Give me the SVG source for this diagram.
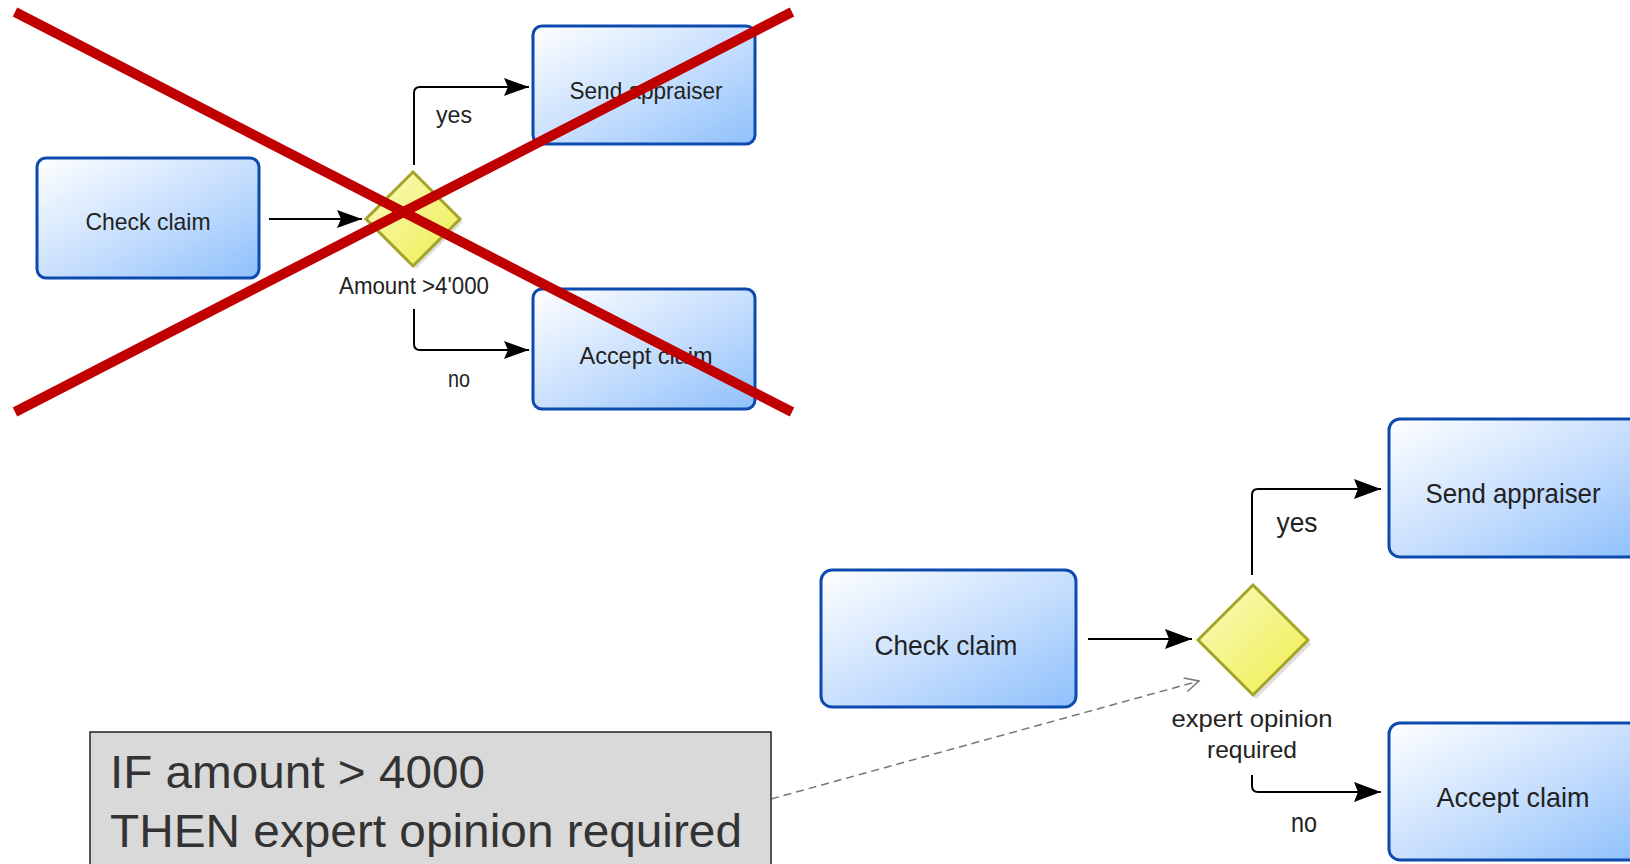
<svg xmlns="http://www.w3.org/2000/svg" width="1630" height="864" viewBox="0 0 1630 864">
  <defs>
    <linearGradient id="taskFill" x1="0" y1="0" x2="1" y2="1">
      <stop offset="0" stop-color="#ffffff"/>
      <stop offset="0.55" stop-color="#c4ddfd"/>
      <stop offset="1" stop-color="#8ec0fb"/>
    </linearGradient>
    <linearGradient id="gateFill" x1="0" y1="0" x2="1" y2="1">
      <stop offset="0" stop-color="#fafac0"/>
      <stop offset="1" stop-color="#eeee4c"/>
    </linearGradient>
    <marker id="arrow" markerUnits="userSpaceOnUse" markerWidth="30" markerHeight="22" refX="27" refY="10" orient="auto">
      <path d="M0,0 L27,10 L0,20 L4,10 z" fill="#000"/>
    </marker>
    <marker id="arrowSmall" markerUnits="userSpaceOnUse" markerWidth="28" markerHeight="20" refX="25" refY="9" orient="auto">
      <path d="M0,0 L25,9 L0,18 L4,9 z" fill="#000"/>
    </marker>
    <marker id="openArrow" markerUnits="userSpaceOnUse" markerWidth="20" markerHeight="20" refX="16" refY="8" orient="auto">
      <path d="M2,1 L16,8 L2,15" fill="none" stroke="#777" stroke-width="1.5"/>
    </marker>
  </defs>
  <style>
    .task { fill: url(#taskFill); stroke: #0c4aae; stroke-width: 3; }
    .gate { fill: url(#gateFill); stroke: #a4a428; stroke-width: 3; }
    .gateShadow { fill: #c8c8c8; opacity: 0.6; }
    .flow { fill: none; stroke: #000; stroke-width: 2; }
    .lbl { font-family: "Liberation Sans", Arial, sans-serif; fill: #222; text-anchor: middle; }
    .small { font-size: 24px; }
    .big { font-size: 28px; }
    .assoc { fill: none; stroke: #777; stroke-width: 1.5; stroke-dasharray: 8 5; }
    .note { fill: #d9d9d9; stroke: #222; stroke-width: 1.5; }
    .noteText { font-family: "Liberation Sans", Arial, sans-serif; font-size: 47px; fill: #333; }
    .cross { stroke: #c00000; stroke-width: 10; stroke-linecap: butt; }
  </style>

  <!-- Old model: gateway labelled with the raw condition -->
  <g id="old-model">
    <g id="connectors-old">
      <line class="flow" x1="269" y1="219" x2="362" y2="219" marker-end="url(#arrowSmall)"/>
      <path class="flow" d="M414,165 V93 Q414,87 420,87 H529" marker-end="url(#arrowSmall)"/>
      <path class="flow" d="M414,309 V344 Q414,350 420,350 H529" marker-end="url(#arrowSmall)"/>
      <text class="lbl small" x="454" y="123" textLength="36" lengthAdjust="spacingAndGlyphs">yes</text>
      <text class="lbl small" x="459" y="387" textLength="22" lengthAdjust="spacingAndGlyphs">no</text>
    </g>
    <g id="old-check-claim">
      <rect class="task" x="37" y="158" width="222" height="120" rx="9"/>
      <text class="lbl small" x="148" y="230" textLength="125" lengthAdjust="spacingAndGlyphs">Check claim</text>
    </g>
    <g id="old-gateway">
      <polygon class="gateShadow" points="416,175 463,222 416,269 369,222"/>
      <polygon class="gate" points="413,172 460,219 413,266 366,219"/>
      <text class="lbl small" x="414" y="294" textLength="150" lengthAdjust="spacingAndGlyphs">Amount &gt;4'000</text>
    </g>
    <g id="old-send-appraiser">
      <rect class="task" x="533" y="26" width="222" height="118" rx="9"/>
      <text class="lbl small" x="646" y="99" textLength="153" lengthAdjust="spacingAndGlyphs">Send appraiser</text>
    </g>
    <g id="old-accept-claim">
      <rect class="task" x="533" y="289" width="222" height="120" rx="9"/>
      <text class="lbl small" x="646" y="364" textLength="133" lengthAdjust="spacingAndGlyphs">Accept claim</text>
    </g>
    <!-- strike-through -->
    <g id="strike">
      <line class="cross" x1="15" y1="12" x2="792" y2="412"/>
      <line class="cross" x1="792" y1="12" x2="15" y2="412"/>
    </g>
  </g>

  <!-- New model: gateway names the decision, rule kept in a note -->
  <g id="new-model">
    <g id="connectors">
      <line class="flow" x1="1088" y1="639" x2="1192" y2="639" marker-end="url(#arrow)"/>
      <path class="flow" d="M1252,575 V495 Q1252,489 1258,489 H1381" marker-end="url(#arrow)"/>
      <path class="flow" d="M1252,775 V786 Q1252,792 1258,792 H1381" marker-end="url(#arrow)"/>
      <text class="lbl big" x="1297" y="532" textLength="41" lengthAdjust="spacingAndGlyphs">yes</text>
      <text class="lbl big" x="1304" y="832" textLength="26" lengthAdjust="spacingAndGlyphs">no</text>
      <line class="assoc" x1="771" y1="799" x2="1199" y2="681" marker-end="url(#openArrow)"/>
    </g>
    <g id="check-claim">
      <rect class="task" x="821" y="570" width="255" height="137" rx="11"/>
      <text class="lbl big" x="946" y="655" textLength="143" lengthAdjust="spacingAndGlyphs">Check claim</text>
    </g>
    <g id="gateway">
      <polygon class="gateShadow" points="1256,589 1311,644 1256,699 1201,644"/>
      <polygon class="gate" points="1253,585 1308,640 1253,695 1198,640"/>
      <text class="lbl small" x="1252" y="727" textLength="161" lengthAdjust="spacingAndGlyphs">expert opinion</text>
      <text class="lbl small" x="1252" y="758" textLength="90" lengthAdjust="spacingAndGlyphs">required</text>
    </g>
    <g id="send-appraiser">
      <rect class="task" x="1389" y="419" width="252" height="138" rx="11"/>
      <text class="lbl big" x="1513" y="503" textLength="175" lengthAdjust="spacingAndGlyphs">Send appraiser</text>
    </g>
    <g id="accept-claim">
      <rect class="task" x="1389" y="723" width="252" height="137" rx="11"/>
      <text class="lbl big" x="1513" y="807" textLength="153" lengthAdjust="spacingAndGlyphs">Accept claim</text>
    </g>
    <g id="rule-note">
      <rect class="note" x="90" y="732" width="681" height="140"/>
      <text class="noteText" x="110" y="788" textLength="375" lengthAdjust="spacingAndGlyphs">IF amount &gt; 4000</text>
      <text class="noteText" x="110" y="847" textLength="632" lengthAdjust="spacingAndGlyphs">THEN expert opinion required</text>
    </g>
  </g>
</svg>
